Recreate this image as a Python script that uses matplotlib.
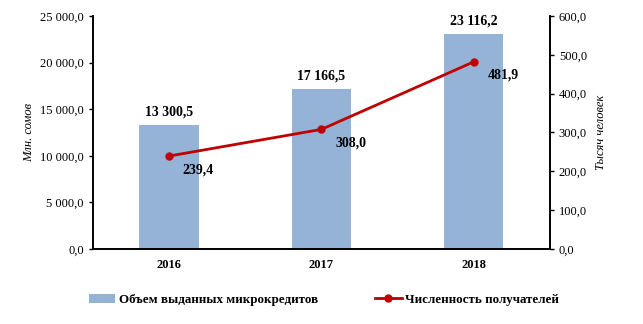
import matplotlib
matplotlib.use("Agg")
import matplotlib.pyplot as plt
from matplotlib.ticker import FuncFormatter

plt.rcParams["font.family"] = ["Liberation Serif", "DejaVu Serif"]

years = ["2016", "2017", "2018"]
volume = [13300.5, 17166.5, 23116.2]       # млн сомов
recipients = [239.4, 308.0, 481.9]          # тысяч человек


def ru_fmt(v, _pos=None):
    s = f"{v:,.1f}"
    return s.replace(",", " ").replace(".", ",")


fig = plt.figure(figsize=(6.43, 3.24), dpi=100)
ax = fig.add_axes([0.1446, 0.2315, 0.7104, 0.7191])
ax2 = ax.twinx()

x = range(len(years))
bars = ax.bar(x, volume, width=0.39, color="#95B3D7", zorder=2,
              label="Объем выданных микрокредитов")
line, = ax2.plot(x, recipients, color="#C00000", lw=2, marker="o", ms=5,
                 label="Численность получателей")

ax.set_xlim(-0.5, 2.5)
ax.set_ylim(0, 25000)
ax.set_yticks(range(0, 25001, 5000))
ax2.set_ylim(0, 600)
ax2.set_yticks(range(0, 601, 100))
ax.yaxis.set_major_formatter(FuncFormatter(ru_fmt))
ax2.yaxis.set_major_formatter(FuncFormatter(ru_fmt))

ax.set_xticks(list(x))
ax.set_xticklabels(years, fontweight="bold", fontsize=9)
ax.tick_params(axis="x", length=0, pad=7)
ax.tick_params(axis="y", labelsize=9, length=3, width=1)
ax2.tick_params(axis="y", labelsize=9, length=3, width=1)

for a in (ax, ax2):
    a.spines["top"].set_visible(False)
    for side in ("left", "right", "bottom"):
        a.spines[side].set_linewidth(1.2)

ax.set_ylabel("Млн. сомов", fontstyle="italic", fontsize=9)
ax.yaxis.set_label_coords(-0.127, 0.5)
ax2.set_ylabel("Тысяч человек", fontstyle="italic", fontsize=9, rotation=90)
ax2.yaxis.set_label_coords(1.10, 0.5)

for xi, v in zip(x, volume):
    ax.text(xi, v + 700, ru_fmt(v), ha="center", va="bottom",
            fontweight="bold", fontsize=10)
for xi, v in zip(x, recipients):
    ax2.text(xi + 0.09, v - 18, ru_fmt(v), ha="left", va="top",
             fontweight="bold", fontsize=10)

fig.legend(handles=[bars, line], loc="lower center", ncol=2,
           bbox_to_anchor=(0.504, 0.02), frameon=False,
           prop={"weight": "bold", "size": 9.4}, columnspacing=4.4,
           handlelength=2.0, handletextpad=0.3)

fig.savefig("out.png", dpi=100)
